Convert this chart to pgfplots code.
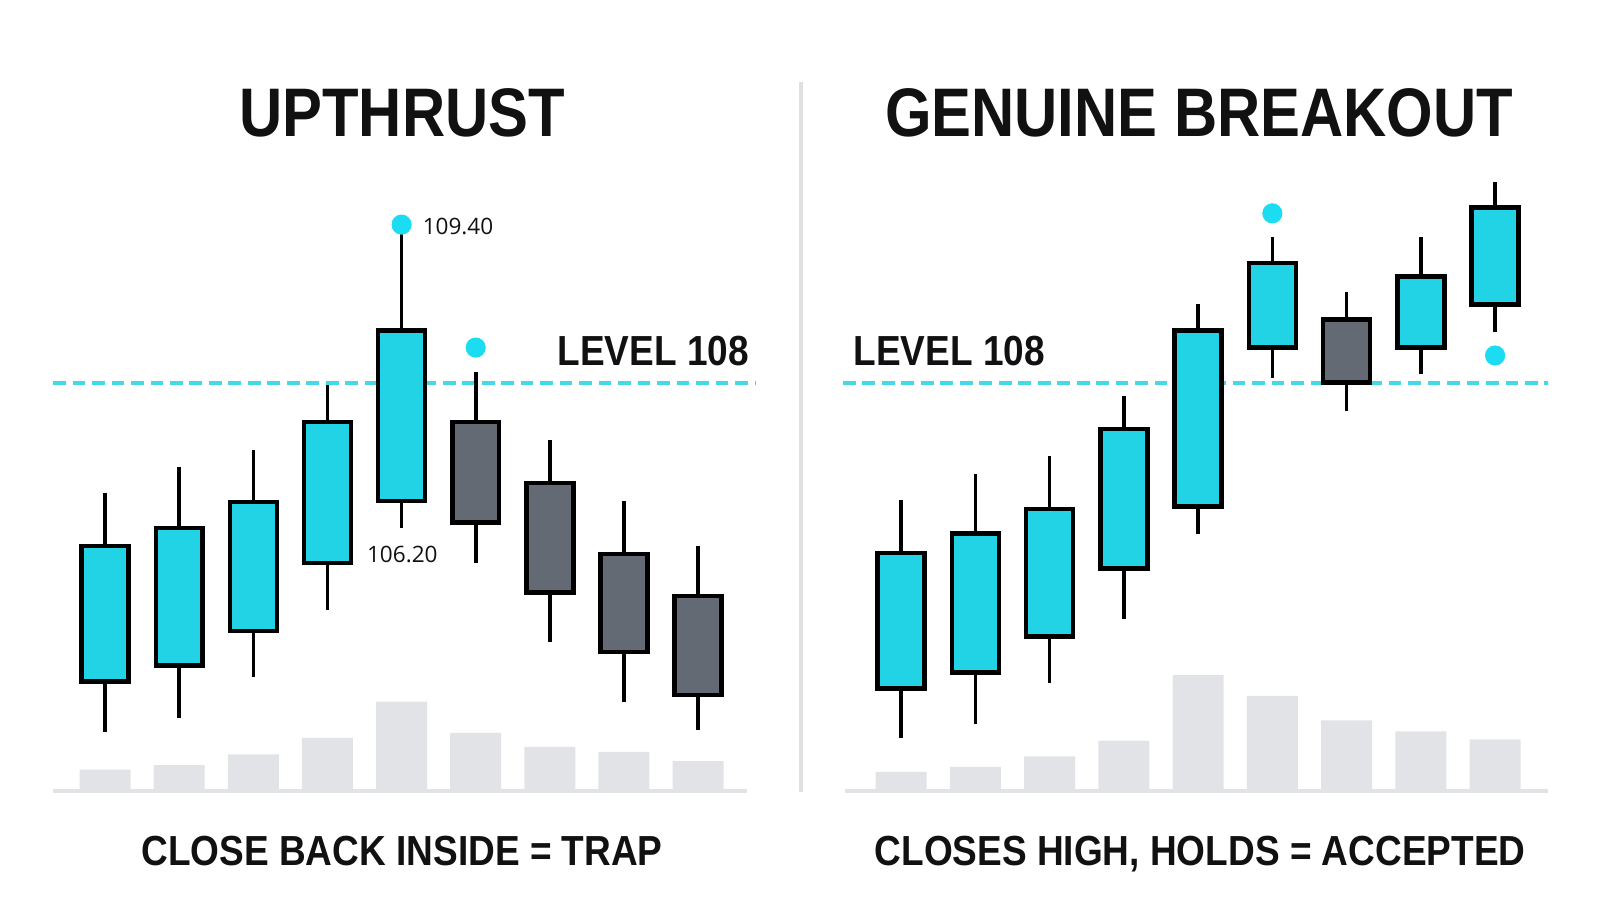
\documentclass[border=0pt]{standalone}
\usepackage{pgfplots}
\pgfplotsset{compat=1.18}
\usepgfplotslibrary{statistics}
\usepackage{fontspec}
\setmainfont{Liberation Sans}
\newfontfamily\headfont{Liberation Sans}[FakeStretch=0.88]
\newfontfamily\titlefont{Liberation Sans}[FakeStretch=0.87]
\newfontfamily\numfont{Open Sans}

\definecolor{candlecyan}{RGB}{34,211,230}
\definecolor{candlegray}{RGB}{100,106,116}
\definecolor{dotcyan}{RGB}{28,220,242}
\definecolor{levelcyan}{RGB}{69,216,232}
\definecolor{volgray}{RGB}{225,227,230}
\definecolor{sepgray}{RGB}{224,224,224}
\definecolor{ink}{RGB}{17,17,17}

\pgfplotsset{
  candle/.style={draw=black, line width=2.2pt, fill=#1},
  priceaxis/.style={hide axis, clip=false, scale only axis, height=310pt,
    ymin=104.3636, ymax=110,
    boxplot/draw direction=y,
    boxplot/box extend=0.633, boxplot/whisker extend=0,
    boxplot/every whisker/.style={line width=1.75pt}},
  volaxis/.style={hide axis, clip=false, scale only axis, height=75pt, ymin=0, ymax=150},
  level/.style={levelcyan, line width=2pt, dash pattern=on 6.2pt off 3.3pt},
  dots/.style={only marks, mark=*, mark size=4.7pt, dotcyan, mark options={draw=none, fill=dotcyan}},
}

% position, low, body bottom, body top, high, fill
\newcommand{\candle}[6]{%
  \addplot[candle=#6, boxplot prepared={draw position=#1, lower whisker=#2,
    lower quartile=#3, median=#4, upper quartile=#4, upper whisker=#5}] coordinates {};}

\begin{document}
\begin{tikzpicture}
\path[use as bounding box] (0,0) rectangle (780pt,-445.5pt);
\begin{scope}[x=0.4975pt, y=-0.5pt]
\coordinate (lv) at (52,771);
\coordinate (lp) at (52,773);
\coordinate (rv) at (826,771);
\coordinate (rp) at (826,773);
\end{scope}

% ---------------- UPTHRUST ----------------
\begin{axis}[volaxis, at={(lv)}, anchor=south west,
  width=342.8pt, xmin=0.2978, xmax=9.785]
  \addplot[ybar, bar width=0.688, bar shift=0pt, fill=volgray, draw=none]
    coordinates {(1,20.7) (2,25.0) (3,35.5) (4,51.5) (5,87.0) (6,56.5) (7,42.7) (8,38.0) (9,28.9)};
  \addplot[volgray, line width=1.75pt] coordinates {(0.2978,0) (9.661,0)};
\end{axis}

\begin{axis}[priceaxis, at={(lp)}, anchor=south west,
  width=342.8pt, xmin=0.2978, xmax=9.785]
  \addplot[level] coordinates {(0.2978,108) (9.785,108)};
  \candle{1}{104.90}{105.35}{106.55}{107.02}{candlecyan}
  \candle{2}{105.03}{105.49}{106.71}{107.25}{candlecyan}
  \candle{3}{105.39}{105.80}{106.94}{107.40}{candlecyan}
  \candle{4}{105.98}{106.40}{107.65}{107.98}{candlecyan}
  \candle{5}{106.71}{106.95}{108.46}{109.40}{candlecyan}
  \candle{6}{106.40}{106.76}{107.65}{108.09}{candlegray}
  \candle{7}{105.70}{106.14}{107.11}{107.49}{candlegray}
  \candle{8}{105.17}{105.61}{106.48}{106.95}{candlegray}
  \candle{9}{104.92}{105.23}{106.11}{106.55}{candlegray}
  \addplot[dots] coordinates {(5,109.40) (6,108.31)};
  \node[anchor=west, inner sep=0, font=\numfont\fontsize{11}{13}\selectfont, text=ink]
    at (axis cs:5.28,109.38) {109.40};
  \node[anchor=center, inner sep=0, font=\numfont\fontsize{11}{13}\selectfont, text=ink]
    at (axis cs:5.01,106.48) {106.20};
  \node[anchor=base east, inner sep=0, font=\headfont\bfseries\fontsize{20.5}{22}\selectfont, text=ink]
    at (axis cs:9.69,108.155) {LEVEL 108};
\end{axis}

% ---------------- GENUINE BREAKOUT ----------------
\begin{axis}[volaxis, at={(rv)}, anchor=south west,
  width=343.8pt, xmin=0.2165, xmax=9.715]
  \addplot[ybar, bar width=0.688, bar shift=0pt, fill=volgray, draw=none]
    coordinates {(1,18.5) (2,23.4) (3,33.5) (4,48.8) (5,112.8) (6,92.6) (7,68.6) (8,57.8) (9,50.0)};
  \addplot[volgray, line width=1.75pt] coordinates {(0.244,0) (9.715,0)};
\end{axis}

\begin{axis}[priceaxis, at={(rp)}, anchor=south west,
  width=343.8pt, xmin=0.2165, xmax=9.715]
  \addplot[level] coordinates {(0.2165,108) (9.715,108)};
  \candle{1}{104.85}{105.29}{106.49}{106.96}{candlecyan}
  \candle{2}{104.97}{105.43}{106.66}{107.19}{candlecyan}
  \candle{3}{105.34}{105.75}{106.88}{107.35}{candlecyan}
  \candle{4}{105.90}{106.35}{107.59}{107.88}{candlecyan}
  \candle{5}{106.66}{106.90}{108.46}{108.70}{candlecyan}
  \candle{6}{108.04}{108.31}{109.06}{109.29}{candlecyan}
  \candle{7}{107.75}{108.00}{108.56}{108.80}{candlegray}
  \candle{8}{108.08}{108.31}{108.94}{109.29}{candlecyan}
  \candle{9}{108.45}{108.69}{109.55}{109.78}{candlecyan}
  \addplot[dots] coordinates {(6,109.50) (9,108.24)};
  \node[anchor=base west, inner sep=0, font=\headfont\bfseries\fontsize{20.5}{22}\selectfont, text=ink]
    at (axis cs:0.355,108.155) {LEVEL 108};
\end{axis}

% separator, titles, captions
\begin{scope}[x=0.4975pt, y=-0.5pt]
\draw[sepgray, line width=2pt] (785,80) -- (785,772);
\node[anchor=base, inner sep=0, font=\titlefont\bfseries\fontsize{33.5}{36}\selectfont, text=ink]
  at (394,132.6) {UPTHRUST};
\node[anchor=base, inner sep=0, font=\titlefont\bfseries\fontsize{33.5}{36}\selectfont, text=ink]
  at (1175,132.6) {GENUINE BREAKOUT};
\node[anchor=base, inner sep=0, font=\headfont\bfseries\fontsize{20.5}{22}\selectfont, text=ink]
  at (394,843.5) {CLOSE BACK INSIDE = TRAP};
\node[anchor=base, inner sep=0, font=\headfont\bfseries\fontsize{20.5}{22}\selectfont, text=ink]
  at (1176,843.5) {CLOSES HIGH, HOLDS = ACCEPTED};
\end{scope}
\end{tikzpicture}
\end{document}
